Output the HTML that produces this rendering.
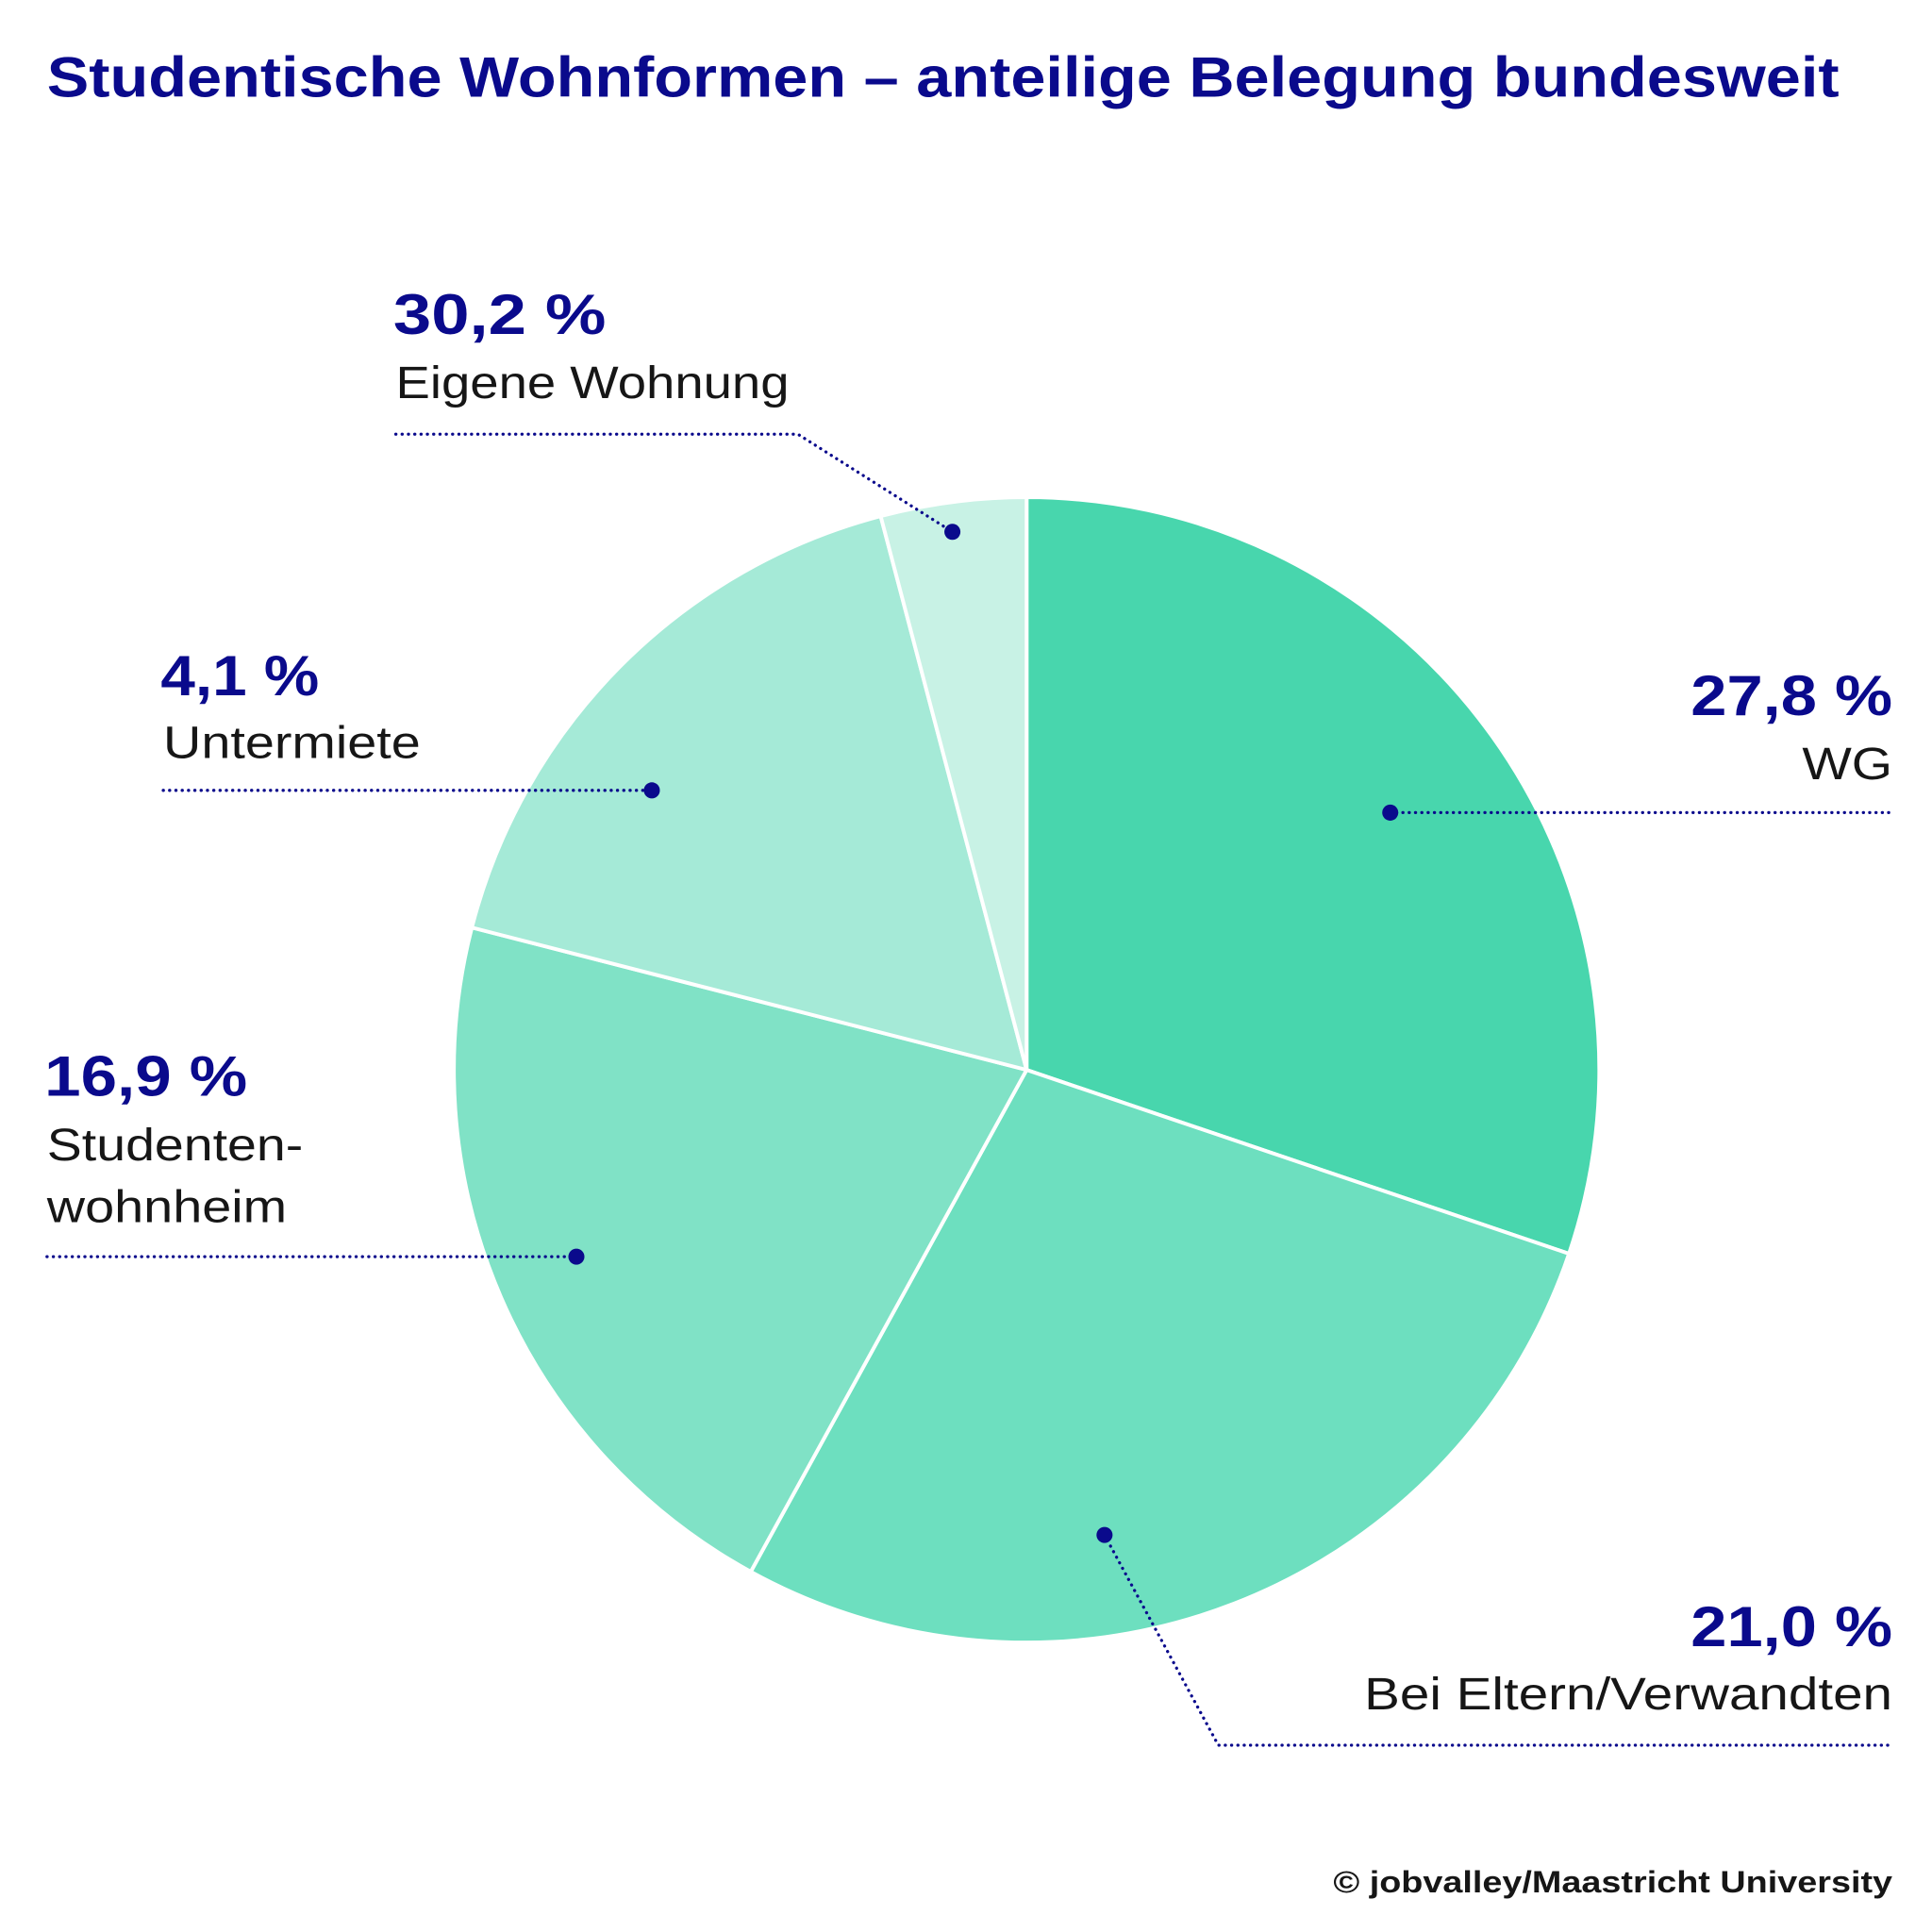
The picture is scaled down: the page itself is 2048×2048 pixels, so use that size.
<!DOCTYPE html>
<html><head><meta charset="utf-8"><style>
html,body{margin:0;padding:0;background:#fff;}
svg{display:block;}
text{font-family:"Liberation Sans",sans-serif;}
.b{font-weight:bold;fill:#0a0a8c;}
.r{fill:#161616;}
</style></head><body>
<svg width="2048" height="2048" viewBox="0 0 1562 1562" xmlns="http://www.w3.org/2000/svg">
<rect width="1562" height="1562" fill="#fff"/>
<text x="38" y="78" class="b" font-size="46" textLength="1449" lengthAdjust="spacingAndGlyphs">Studentische Wohnformen – anteilige Belegung bundesweit</text>
<g stroke="#fff" stroke-width="3" stroke-linejoin="round">
<path d="M830,865 L830,402 A463,463 0 0 1 1268.5,1013.6 Z" fill="#48d6ad"/>
<path d="M830,865 L1268.5,1013.6 A463,463 0 0 1 607,1270.7 Z" fill="#6ddfbf"/>
<path d="M830,865 L607,1270.7 A463,463 0 0 1 381.5,749.9 Z" fill="#80e2c6"/>
<path d="M830,865 L381.5,749.9 A463,463 0 0 1 712,417.3 Z" fill="#a5ead7"/>
<path d="M830,865 L712,417.3 A463,463 0 0 1 830,402 Z" fill="#c8f2e5"/>
</g>
<g fill="none" stroke="#0a0a8c" stroke-width="2.5" stroke-linecap="round" stroke-dasharray="0.1 5">
<polyline points="320,351 645,351 770,430"/>
<polyline points="132,639 527,639"/>
<polyline points="38,1016 466,1016"/>
<polyline points="1124,657 1530,657"/>
<polyline points="893,1241 985,1411 1530,1411"/>
</g>
<g fill="#0a0a8c">
<circle cx="770" cy="430" r="6.5"/>
<circle cx="527" cy="639" r="6.5"/>
<circle cx="466" cy="1016" r="6.5"/>
<circle cx="1124" cy="657" r="6.5"/>
<circle cx="893" cy="1241" r="6.5"/>
</g>
<text x="318" y="270" class="b" font-size="46" textLength="172" lengthAdjust="spacingAndGlyphs">30,2 %</text>
<text x="320" y="322" class="r" font-size="37" textLength="318" lengthAdjust="spacingAndGlyphs">Eigene Wohnung</text>
<text x="130" y="562" class="b" font-size="46" textLength="128" lengthAdjust="spacingAndGlyphs">4,1 %</text>
<text x="132" y="613" class="r" font-size="37" textLength="208" lengthAdjust="spacingAndGlyphs">Untermiete</text>
<text x="36" y="886" class="b" font-size="46" textLength="164" lengthAdjust="spacingAndGlyphs">16,9 %</text>
<text x="38" y="938" class="r" font-size="37" textLength="207" lengthAdjust="spacingAndGlyphs">Studenten-</text>
<text x="38" y="988" class="r" font-size="37" textLength="194" lengthAdjust="spacingAndGlyphs">wohnheim</text>
<text x="1367" y="578" class="b" font-size="46" textLength="163" lengthAdjust="spacingAndGlyphs">27,8 %</text>
<text x="1457" y="630" class="r" font-size="37" textLength="73" lengthAdjust="spacingAndGlyphs">WG</text>
<text x="1367" y="1331" class="b" font-size="46" textLength="163" lengthAdjust="spacingAndGlyphs">21,0 %</text>
<text x="1103" y="1382" class="r" font-size="37" textLength="427" lengthAdjust="spacingAndGlyphs">Bei Eltern/Verwandten</text>
<text x="1078" y="1530" font-size="25" font-weight="bold" fill="#161616" textLength="452" lengthAdjust="spacingAndGlyphs">© jobvalley/Maastricht University</text>
</svg>
</body></html>
